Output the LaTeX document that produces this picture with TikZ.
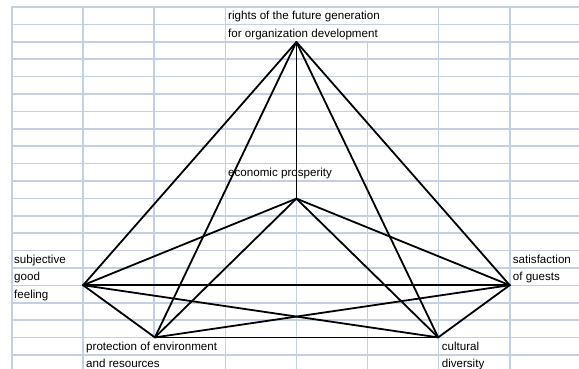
\documentclass[tikz,border=0pt]{standalone}
\usepackage{fontspec}
\setmainfont{Liberation Sans}
\begin{document}
\begin{tikzpicture}[x=1pt,y=-1pt,
  gridline/.style={draw={rgb,255:red,197;green,207;blue,226},line width=1.6pt},
  edge/.style={draw=black,line width=1.8pt,line cap=round},
  lbl/.style={anchor=base west,inner sep=0pt,font=\fontsize{11.6}{13}\selectfont}]
\useasboundingbox (0,0) rectangle (579,368);
\clip (0,0) rectangle (579,368);
% grid: vertical lines
\foreach \x/\ya in {12/7,83.1/7,225.3/7,438.6/7,509.7/7,296.4/41.8,367.5/41.8}
  \draw[gridline] (\x,\ya) -- (\x,370);
\draw[gridline] (154.2,7) -- (154.2,337.6);
% grid: horizontal lines
\foreach \j in {0,...,20}
  \draw[gridline] (11.2,7+17.4*\j) -- (580,7+17.4*\j);
% points
\coordinate (A) at (296.4,42);
\coordinate (E) at (296.4,198.6);
\coordinate (S) at (83.1,285.2);
\coordinate (G) at (509.7,285.2);
\coordinate (P) at (154.9,337.4);
\coordinate (C) at (438.2,337.4);
% edges (complete graph)
\draw[edge] (A) -- (S);
\draw[edge] (A) -- (P);
\draw[edge] (A) -- (E);
\draw[edge] (A) -- (C);
\draw[edge] (A) -- (G);
\draw[edge] (E) -- (S);
\draw[edge] (E) -- (P);
\draw[edge] (E) -- (C);
\draw[edge] (E) -- (G);
\draw[edge] (S) -- (G);
\draw[edge] (S) -- (C);
\draw[edge] (S) -- (P);
\draw[edge] (P) -- (G);
\draw[edge] (P) -- (C);
\draw[edge] (C) -- (G);
% labels
\node[lbl] (la1) at (228,19.9) {rights of the future generation};
\node[lbl] (la2) at (228,37.3) {for organization development};
\node[lbl] (le) at (228,176.5) {economic prosperity};
\node[lbl] (ls1) at (14,263.5) {subjective};
\node[lbl] (ls2) at (14,280.9) {good};
\node[lbl] (ls3) at (14,298.3) {feeling};
\node[lbl] (lg1) at (512.7,263.5) {satisfaction};
\node[lbl] (lg2) at (512.7,280.9) {of guests};
\node[lbl] (lp1) at (86,350.5) {protection of environment};
\node[lbl] (lp2) at (86,367.9) {and resources};
\node[lbl] (lc1) at (441.6,350.5) {cultural};
\node[lbl] (lc2) at (441.6,367.9) {diversity};
\end{tikzpicture}
\end{document}
